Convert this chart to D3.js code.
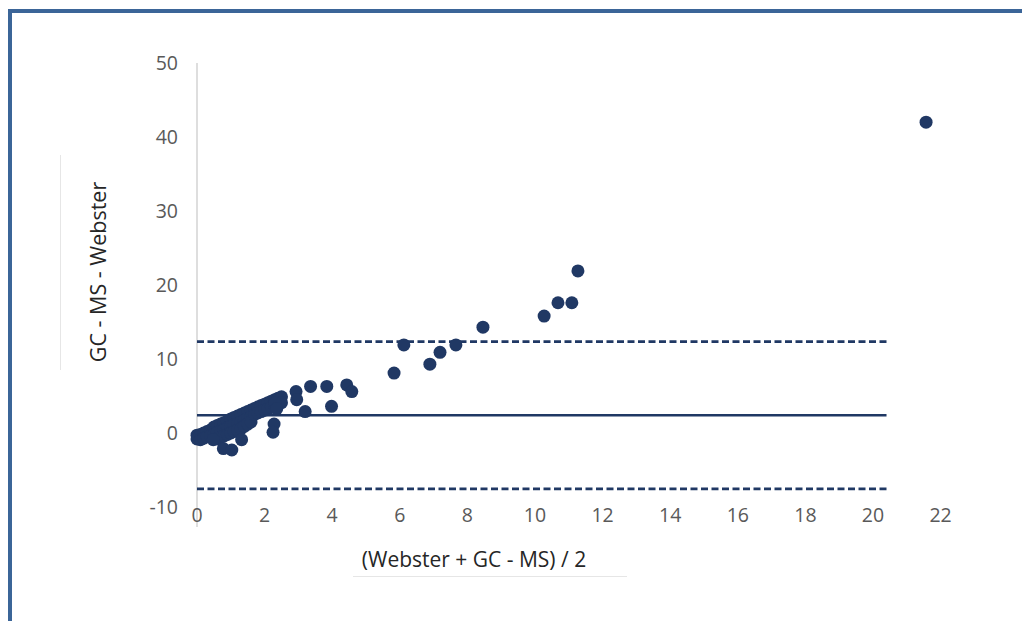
<!DOCTYPE html>
<html>
<head>
<meta charset="utf-8">
<script src="https://cdn.jsdelivr.net/npm/d3@7"></script>
<style>
  html, body { margin: 0; padding: 0; background: #ffffff; }
  svg { display: block; }
  text { font-family: "Open Sans", "Liberation Sans", sans-serif; }
</style>
</head>
<body>
<svg id="chart" width="1022" height="621"></svg>
<script>
// Mean of the two methods (x) and their difference (y)
const meanVals = [
  0.00, 0.00, 0.10, 0.10, 0.20, 0.20, 0.30, 0.30, 0.40, 0.40,
  0.50, 0.50, 0.60, 0.60, 0.60, 0.70, 0.70, 0.70, 0.80, 0.80, 0.80,
  0.90, 0.90, 0.90, 1.00, 1.00, 1.00, 1.10, 1.10, 1.10, 1.20, 1.20, 1.20,
  1.30, 1.30, 1.30, 1.40, 1.40, 1.40, 1.50, 1.50, 1.50, 1.60, 1.60, 1.60,
  1.70, 1.70, 1.80, 1.80, 1.90, 1.90, 2.00, 2.00, 2.10, 2.10, 2.20, 2.20,
  2.30, 2.30, 2.40, 2.40, 2.50, 2.50, 2.31, 2.36,
  0.48, 0.78, 1.03, 1.32, 2.28, 2.25,
  2.93, 2.95, 3.20, 3.36, 3.84, 3.98, 4.43, 4.58,
  5.83, 6.12, 6.89, 7.19, 7.66, 8.46, 10.27, 10.68, 11.09, 11.27, 21.57
];
const diffVals = [
  -0.3, -0.8, -0.2, -0.9, 0.0, -0.7, 0.2, -0.5, 0.4, -0.4,
  0.8, -0.2, 1.0, 0.1, -0.8, 1.2, 0.3, -0.6, 1.4, 0.5, -0.4,
  1.6, 0.7, -0.2, 1.9, 0.9, 0.0, 2.1, 1.1, 0.2, 2.3, 1.3, 0.4,
  2.5, 1.5, 0.6, 2.7, 1.7, 0.9, 2.9, 2.0, 1.2, 3.1, 2.2, 1.5,
  3.3, 2.5, 3.5, 2.7, 3.7, 2.9, 3.9, 3.1, 4.1, 3.3, 4.3, 3.5,
  4.5, 3.7, 4.7, 3.9, 4.9, 4.1, 4.05, 3.3,
  -0.9, -2.1, -2.3, -0.9, 1.2, 0.1,
  5.6, 4.5, 2.9, 6.3, 6.3, 3.6, 6.5, 5.6,
  8.1, 11.9, 9.3, 10.9, 11.9, 14.3, 15.8, 17.6, 17.6, 21.9, 42.0
];

// Bias and limits of agreement
const biasValue = 2.4;
const limitValues = [12.35, -7.55];
const refLineSpan = [0, 20.4];

const xTicks = [0, 2, 4, 6, 8, 10, 12, 14, 16, 18, 20, 22];
const yTicks = [-10, 0, 10, 20, 30, 40, 50];

const svg = d3.select("#chart");

const x = d3.scaleLinear().domain([0, 20]).range([197, 873]);
const y = d3.scaleLinear().domain([0, 50]).range([433, 63]);

const markColor = "#203864";
const labelColor = "#595959";

// Outer frame (top and left edges)
svg.append("rect").attr("x", 8).attr("y", 9).attr("width", 1014).attr("height", 4).attr("fill", "#3b6598");
svg.append("rect").attr("x", 8).attr("y", 9).attr("width", 4).attr("height", 612).attr("fill", "#3b6598");

// Faint text-box edges next to the axis titles
svg.append("line").attr("x1", 60.5).attr("x2", 60.5).attr("y1", 155).attr("y2", 370)
  .attr("stroke", "#e6e6e6").attr("stroke-width", 1);
svg.append("line").attr("x1", 353).attr("x2", 627).attr("y1", 576.5).attr("y2", 576.5)
  .attr("stroke", "#e6e6e6").attr("stroke-width", 1);

// Vertical axis line
svg.append("line")
  .attr("x1", x(0)).attr("x2", x(0))
  .attr("y1", y(50)).attr("y2", y(-10) + 20)
  .attr("stroke", "#c8c8c8").attr("stroke-width", 1.2);

// Y tick labels
svg.append("g").selectAll("text").data(yTicks).join("text")
  .attr("x", 178).attr("y", d => y(d))
  .attr("dy", "0.35em")
  .attr("text-anchor", "end")
  .attr("font-size", 19.5)
  .attr("fill", labelColor)
  .text(d => d);

// X tick labels
svg.append("g").selectAll("text").data(xTicks).join("text")
  .attr("x", d => x(d)).attr("y", 515)
  .attr("dy", "0.35em")
  .attr("text-anchor", "middle")
  .attr("font-size", 19.5)
  .attr("fill", labelColor)
  .text(d => d);

// Axis titles
svg.append("text")
  .attr("x", 474).attr("y", 560).attr("dy", "0.35em")
  .attr("text-anchor", "middle").attr("font-size", 21).attr("fill", "#262626")
  .text("(Webster + GC - MS) / 2");

svg.append("text")
  .attr("transform", "translate(98,272) rotate(-90)")
  .attr("dy", "0.35em")
  .attr("text-anchor", "middle").attr("font-size", 21.5).attr("fill", "#262626")
  .text("GC - MS - Webster");

// Bias line (solid) and limits of agreement (dashed)
svg.append("line")
  .attr("x1", x(refLineSpan[0])).attr("x2", x(refLineSpan[1]))
  .attr("y1", y(biasValue)).attr("y2", y(biasValue))
  .attr("stroke", markColor).attr("stroke-width", 2.6);

svg.append("g").selectAll("line").data(limitValues).join("line")
  .attr("x1", x(refLineSpan[0])).attr("x2", x(refLineSpan[1]))
  .attr("y1", d => y(d)).attr("y2", d => y(d))
  .attr("stroke", markColor).attr("stroke-width", 2.6)
  .attr("stroke-dasharray", "7,3.5");

// Points
svg.append("g").selectAll("circle").data(d3.zip(meanVals, diffVals)).join("circle")
  .attr("cx", d => x(d[0])).attr("cy", d => y(d[1]))
  .attr("r", 6.5)
  .attr("fill", markColor);
</script>
</body>
</html>
